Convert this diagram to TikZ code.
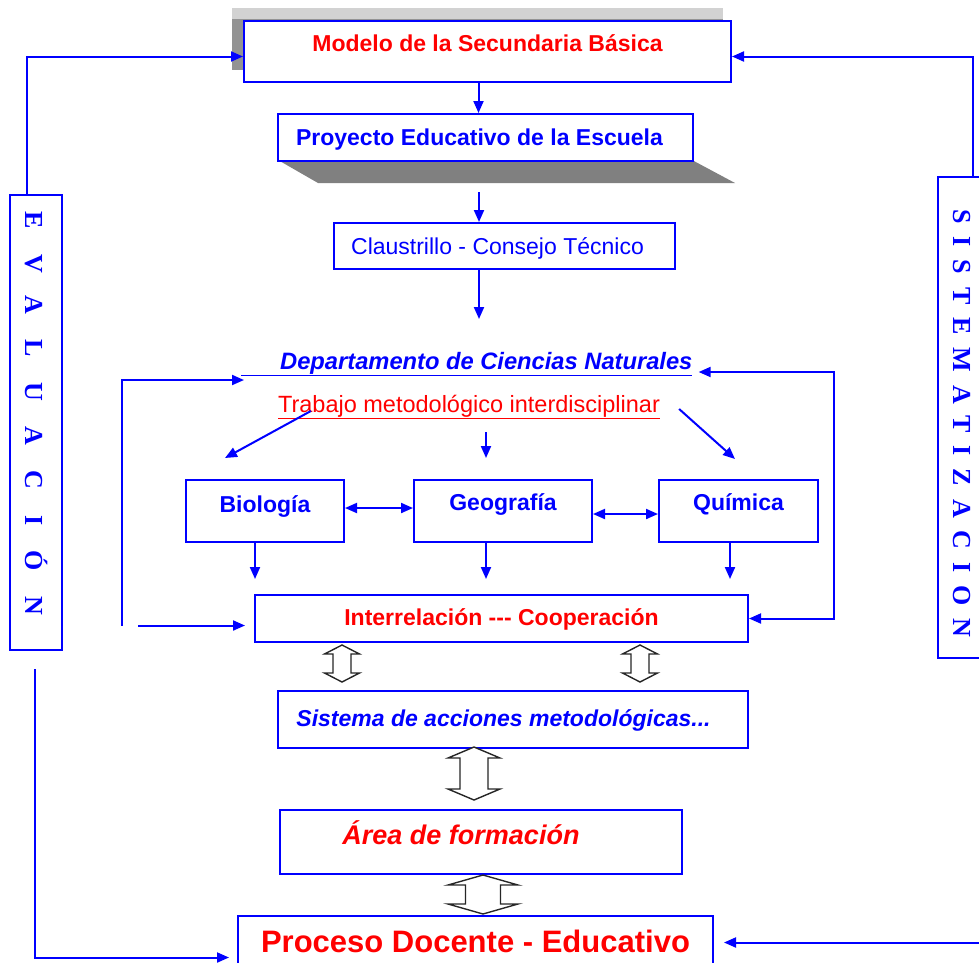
\documentclass[tikz,border=0pt]{standalone}
\usepackage{fontspec}
\setmainfont{Liberation Sans}
\newfontfamily\evalfont[LetterSpace=98]{Liberation Serif}
\newfontfamily\sistfont[LetterSpace=50]{Liberation Serif}
\usetikzlibrary{arrows.meta}

\definecolor{azul}{RGB}{0,0,255}
\definecolor{rojo}{RGB}{255,0,0}
\newcommand{\letra}[1]{\fontsize{#1}{#1}\selectfont}

\tikzset{
  caja/.style={draw=azul, fill=white, line width=2pt, inner sep=0pt, anchor=north west, font=\letra{23}\bfseries},
  flecha/.style={draw=azul, line width=2pt, ->},
  ambas/.style={draw=azul, line width=2pt, <->},
  pics/hueca/.style n args={4}{code={
    \draw[line width=1.4pt, draw=black!85, fill=white] (0,-#1) -- (#2,{-#1+#4}) -- (#3,{-#1+#4}) -- (#3,{#1-#4})
      -- (#2,{#1-#4}) -- (0,#1) -- (-#2,{#1-#4}) -- (-#3,{#1-#4}) -- (-#3,{-#1+#4}) -- (-#2,{-#1+#4}) -- cycle;
  }}
}

\begin{document}
\begin{tikzpicture}[x=1pt, y=-1pt, >={Triangle[length=12pt,width=10pt]}]
\useasboundingbox (0,0) rectangle (979,962);

% sombras
\fill[gray!85] (232,8) rectangle (723,70);
\fill[gray!35] (232,8) rectangle (723,19);
\fill[gray] (278,160) -- (692,160) -- (735,183) -- (318,183) -- cycle;

% cajas
\node[caja, text=rojo, minimum width=487pt, text height=30pt, text depth=31pt] (modelo) at (243,20) {Modelo de la Secundaria Básica};
\node[caja, text=azul, minimum width=415pt, text height=31pt, text depth=16pt] (proyecto) at (277,113) {Proyecto Educativo de la Escuela\hspace*{12pt}};
\node[caja, text=azul, font=\letra{23}, minimum width=341pt, text height=31pt, text depth=15pt] (claustro) at (333,222) {Claustrillo - Consejo Técnico\hspace*{14pt}};

\node[text=azul, inner sep=0pt, anchor=base west, font=\letra{23.7}\bfseries\itshape] (depto) at (241,369) {\underline{\hspace*{39pt}Departamento de Ciencias Naturales}};
\node[text=rojo, inner sep=0pt, anchor=base, font=\letra{23.5}] (trabajo) at (469,412) {\underline{Trabajo metodológico interdisciplinar}};

\node[caja, text=azul, minimum width=158pt, text height=32pt, text depth=30pt] (bio) at (185,479) {Biología};
\node[caja, text=azul, minimum width=178pt, text height=30pt, text depth=32pt] (geo) at (413,479) {Geografía};
\node[caja, text=azul, minimum width=159pt, text height=30pt, text depth=32pt] (quim) at (658,479) {Química};

\node[caja, text=rojo, minimum width=493pt, text height=30pt, text depth=17pt] (interrel) at (254,594) {Interrelación -{}-{}- Cooperación};
\node[caja, text=azul, font=\letra{23}\bfseries\itshape, minimum width=470pt, text height=35pt, text depth=22pt] (sistema) at (277,690) {Sistema de acciones metodológicas...\hspace*{19pt}};
\node[caja, text=rojo, font=\letra{27}\bfseries\itshape, minimum width=402pt, text height=34pt, text depth=30pt] (area) at (279,809) {Área de formación\hspace*{40pt}};
\node[caja, text=rojo, font=\letra{31}\bfseries, minimum width=475pt, text height=36pt, text depth=25pt] (proceso) at (237,915) {Proceso Docente - Educativo};

\node[caja, anchor=center, text=azul, minimum width=52pt, minimum height=455pt] (evalua) at (36,422.5) {\rotatebox{-90}{\evalfont\letra{26}EVALUACIÓN\hspace*{18pt}}};
\node[caja, anchor=center, text=azul, minimum width=48pt, minimum height=481pt] (sistem) at (962,417.5) {\rotatebox{-90}{\hspace*{12pt}\sistfont\letra{26}SISTEMATIZACION}};

% flechas huecas
\pic (h1) at (342,663.5) {hueca={18.5}{17.5}{9}{9}};
\pic (h2) at (640,663.5) {hueca={18.5}{17.5}{9}{9}};
\pic (h3) at (474,773.5) {hueca={26.5}{26}{14}{11}};
\pic (h4) at (483,894.5) {hueca={19.5}{35}{17.5}{10}};

% conexiones
\draw[flecha] ([xshift=-9pt]modelo.south) -- ([xshift=-7pt]proyecto.north);
\draw[flecha] ([shift={(-6.5pt,-30pt)}]proyecto.south) -- ([xshift=-25.5pt]claustro.north);
\draw[flecha] ([xshift=-25.5pt]claustro.south) -- ++(0,49);

\draw[flecha] ([shift={(33pt,1pt)}]trabajo.base west) -- ([shift={(-40pt,21pt)}]bio.north);
\draw[flecha] ([shift={(-17pt,47pt)}]geo.north) -- ([shift={(-17pt,21pt)}]geo.north);
\draw[flecha] ([shift={(19pt,3pt)}]trabajo.base east) -- ([shift={(-3.5pt,20pt)}]quim.north);

\draw[ambas] ([yshift=3pt]bio.east) -- ([yshift=3pt]geo.west);
\draw[ambas] ([yshift=-3pt]geo.east) -- ([yshift=-3pt]quim.west);

\draw[flecha] ([xshift=-10pt]bio.south) -- ++(0,36);
\draw[flecha] ([xshift=-17pt]geo.south) -- ++(0,36);
\draw[flecha] ([xshift=-8.5pt]quim.south) -- ++(0,36);

\draw[flecha] ([shift={(-132pt,-7pt)}]interrel.west) |- ([shift={(3pt,-11pt)}]depto.base west);
\draw[flecha, shorten >=9pt] ([shift={(-116pt,-7pt)}]interrel.west) -- ([yshift=-7pt]interrel.west);
\draw[ambas] ([shift={(6pt,-3pt)}]depto.base east) -- ++(135,0) |- (interrel.east);

\draw[flecha] ([xshift=-9pt]evalua.north) |- ([yshift=-5pt]modelo.west);
\draw[flecha] ([xshift=11pt]sistem.north) |- ([yshift=-5pt]modelo.east);
\draw[flecha, shorten >=8pt] ([shift={(-1pt,-18pt)}]evalua.south) |- ([yshift=-11pt]proceso.west);
\draw[flecha, shorten >=10pt] ([shift={(280pt,4pt)}]proceso.east) -- ([yshift=4pt]proceso.east);
\end{tikzpicture}
\end{document}
